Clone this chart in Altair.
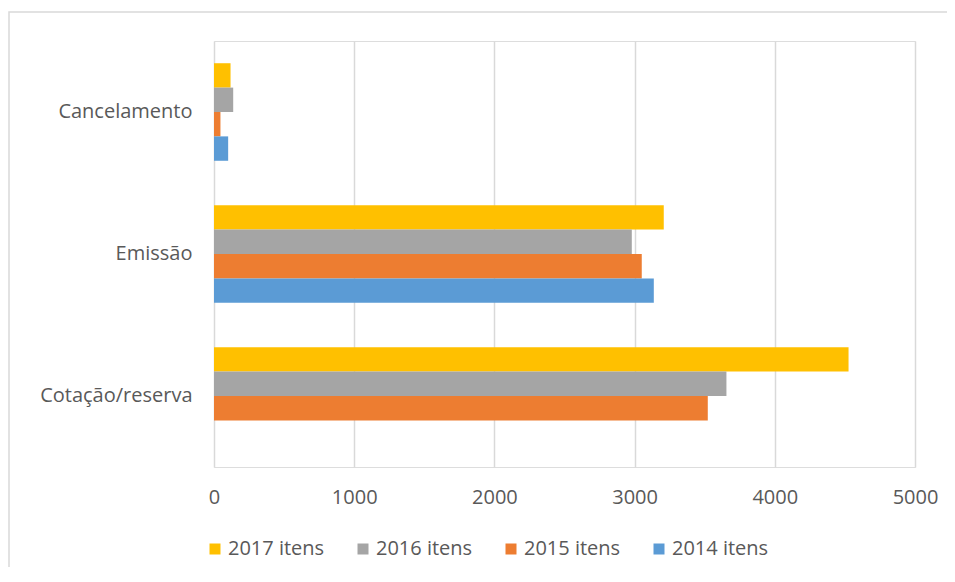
import altair as alt
import pandas as pd

categories = ["Cancelamento", "Emissão", "Cotação/reserva"]
series = ["2017 itens", "2016 itens", "2015 itens", "2014 itens"]
values_2017 = [118, 3208, 4526]
values_2016 = [137, 2980, 3655]
values_2015 = [46, 3051, 3522]
values_2014 = [101, 3137, 0]
colors = ["#FFC000", "#A5A5A5", "#ED7D31", "#5B9BD5"]
x_ticks = [0, 1000, 2000, 3000, 4000, 5000]

rows = []
for s, vals in zip(series, [values_2017, values_2016, values_2015, values_2014]):
    for c, v in zip(categories, vals):
        rows.append({"categoria": c, "serie": s, "valor": v})
df = pd.DataFrame(rows)

FONT = "Open Sans"
TXT = "#595959"
FS = 20

frame = alt.Chart(pd.DataFrame({"a": [0]})).mark_rect(
    fill="white", fillOpacity=0, stroke="#D9D9D9", strokeWidth=1.5, clip=False
).encode(
    x=alt.value(-205), x2=alt.value(780), y=alt.value(-29), y2=alt.value(600)
)

bars = alt.Chart(df).mark_bar().encode(
    x=alt.X(
        "valor:Q",
        scale=alt.Scale(domain=[0, 5000], nice=False),
        axis=alt.Axis(
            values=x_ticks, format="d", title=None, grid=True, gridColor="#D9D9D9", gridWidth=1.5,
            domain=False, ticks=False, tickSize=0, labelPadding=20, labelFlush=False,
            labelFont=FONT, labelFontSize=FS, labelColor=TXT,
        ),
    ),
    y=alt.Y(
        "categoria:N", sort=categories,
        scale=alt.Scale(paddingInner=0.313, paddingOuter=0.1565),
        axis=alt.Axis(
            title=None, domain=False, ticks=False, tickSize=0, labelPadding=22,
            labelFont=FONT, labelFontSize=FS, labelColor=TXT,
        ),
    ),
    yOffset=alt.YOffset("serie:N", sort=series, scale=alt.Scale(paddingInner=0, paddingOuter=0)),
    color=alt.Color(
        "serie:N", sort=series,
        scale=alt.Scale(domain=series, range=colors),
        legend=alt.Legend(
            title=None, orient="none", legendX=-9, legendY=498, direction="horizontal",
            symbolType="square", symbolSize=121, symbolStrokeWidth=0, labelOffset=3,
            columnPadding=28, padding=0, labelFont=FONT, labelFontSize=FS, labelColor=TXT,
        ),
    ),
)

chart = alt.layer(frame, bars).properties(
    width=701, height=426,
    autosize=alt.AutoSizeParams(type="none"),
    padding={"left": 206, "top": 33, "right": 32, "bottom": 100},
).configure_view(stroke=None).configure(background="white")

chart.save("out.html", embed_options={"renderer": "svg", "actions": False})
